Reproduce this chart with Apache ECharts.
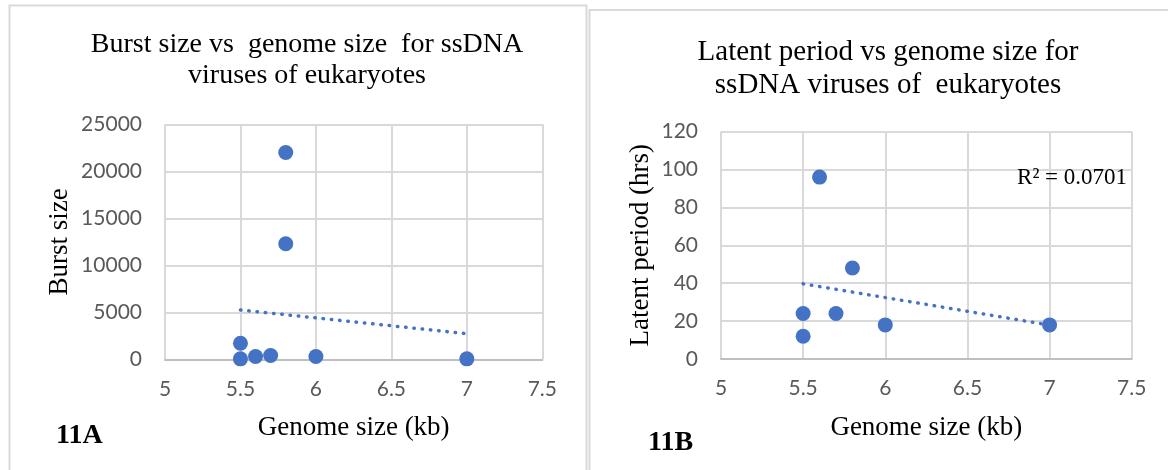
<!DOCTYPE html>
<html>
<head>
<meta charset="utf-8">
<script src="https://cdn.jsdelivr.net/npm/echarts@6/dist/echarts.min.js"></script>
<style>
  html, body { margin: 0; padding: 0; background: #ffffff; }
  #chart { width: 1168px; height: 470px; }
</style>
</head>
<body>
<div id="chart"></div>
<script>
// ---- Data ----
const burstGenome = [5.5, 5.5, 5.6, 5.7, 5.8, 5.8, 6.0, 7.0];
const burstSize   = [1700, 50, 300, 400, 22000, 12300, 300, 50];

const latentGenome = [5.6, 5.8, 5.5, 5.7, 5.5, 6.0, 7.0];
const latentPeriod = [96, 48, 24, 24, 12, 18, 18];

const xTicks = { min: 5, max: 7.5, interval: 0.5 };
const burstTicks = { min: 0, max: 25000, interval: 5000 };
const latentTicks = { min: 0, max: 120, interval: 20 };

const titleA = 'Burst size vs  genome size  for ssDNA\nviruses of eukaryotes';
const titleB = 'Latent period vs genome size for\nssDNA viruses of  eukaryotes';
const xName = 'Genome size (kb)';
const yNameA = 'Burst size';
const yNameB = 'Latent period (hrs)';
const panelA = '11A';
const panelB = '11B';
const r2Label = 'R² = 0.0701';

// ---- Linear trendline from the data ----
function trend(xs, ys) {
  const n = xs.length;
  const mx = xs.reduce((a, b) => a + b, 0) / n;
  const my = ys.reduce((a, b) => a + b, 0) / n;
  let sxy = 0, sxx = 0;
  for (let i = 0; i < n; i++) { sxy += (xs[i] - mx) * (ys[i] - my); sxx += (xs[i] - mx) ** 2; }
  const b = sxy / sxx, a = my - b * mx;
  const x0 = Math.min(...xs), x1 = Math.max(...xs);
  return [[x0, a + b * x0], [x1, a + b * x1]];
}

const BLUE = '#4472C4';
const GRID = '#d9d9d9';
const LABEL = '#595959';
const SERIF = '"Liberation Serif", "Times New Roman", serif';
const SANS = 'Lato, "Open Sans", sans-serif';

function xAxis(gridIndex) {
  return {
    type: 'value', gridIndex,
    min: xTicks.min, max: xTicks.max, interval: xTicks.interval,
    name: xName, nameLocation: 'middle', nameGap: 55,
    nameTextStyle: { fontFamily: SERIF, fontSize: 27, color: '#000' },
    axisLine: { show: true, lineStyle: { color: '#bfbfbf', width: 2 } },
    axisTick: { show: false },
    axisLabel: { color: LABEL, fontFamily: SANS, fontSize: 21, margin: 19, formatter: v => String(v) },
    splitLine: { show: true, lineStyle: { color: GRID, width: 2 } }
  };
}
function yAxis(gridIndex, ticks, name, gap) {
  return {
    type: 'value', gridIndex,
    min: ticks.min, max: ticks.max, interval: ticks.interval,
    name, nameLocation: 'middle', nameGap: gap, nameRotate: 90,
    nameTextStyle: { fontFamily: SERIF, fontSize: 27, color: '#000' },
    axisLine: { show: false },
    axisTick: { show: false },
    axisLabel: { color: LABEL, fontFamily: SANS, fontSize: 21, margin: 23, formatter: v => String(v) },
    splitLine: { show: true, lineStyle: { color: GRID, width: 2 } }
  };
}

const chart = echarts.init(document.getElementById('chart'), null, { renderer: 'canvas' });
chart.setOption({
  animation: false,
  backgroundColor: '#ffffff',
  title: [
    { text: titleA, left: 302, top: 24, textAlign: 'center',
      textStyle: { fontFamily: SERIF, fontSize: 28, fontWeight: 'normal', color: '#000', lineHeight: 31, align: 'center' } },
    { text: titleB, left: 883, top: 31, textAlign: 'center',
      textStyle: { fontFamily: SERIF, fontSize: 29, fontWeight: 'normal', color: '#000', lineHeight: 33, align: 'center' } }
  ],
  grid: [
    { left: 165, right: 1168 - 542.3, top: 124.3, bottom: 470 - 359.3 },
    { left: 721, right: 1168 - 1131.7, top: 131.6, bottom: 470 - 359 }
  ],
  xAxis: [xAxis(0), xAxis(1)],
  yAxis: [yAxis(0, burstTicks, yNameA, 92), yAxis(1, latentTicks, yNameB, 67)],
  series: [
    { type: 'line', xAxisIndex: 0, yAxisIndex: 0, data: trend(burstGenome, burstSize),
      symbol: 'none', z: 2,
      lineStyle: { color: BLUE, width: 3.5, type: [0.5, 7.8], cap: 'round' } },
    { type: 'scatter', xAxisIndex: 0, yAxisIndex: 0, symbolSize: 15, z: 3,
      itemStyle: { color: BLUE, opacity: 1 },
      data: burstGenome.map((x, i) => [x, burstSize[i]]) },
    { type: 'line', xAxisIndex: 1, yAxisIndex: 1, data: trend(latentGenome, latentPeriod),
      symbol: 'none', z: 2,
      lineStyle: { color: BLUE, width: 3.5, type: [0.5, 7.8], cap: 'round' } },
    { type: 'scatter', xAxisIndex: 1, yAxisIndex: 1, symbolSize: 15, z: 3,
      itemStyle: { color: BLUE, opacity: 1 },
      data: latentGenome.map((x, i) => [x, latentPeriod[i]]) }
  ],
  graphic: [
    { type: 'rect', z: 0, silent: true, shape: { x: 9.5, y: 5.5, width: 577, height: 480 },
      style: { fill: 'none', stroke: '#d9d9d9', lineWidth: 2 } },
    { type: 'rect', z: 0, silent: true, shape: { x: 589.5, y: 10, width: 600, height: 480 },
      style: { fill: 'none', stroke: '#d9d9d9', lineWidth: 2 } },
    { type: 'text', left: 56, top: 422, z: 10,
      style: { text: panelA, font: 'bold 28px "Liberation Serif", serif', fill: '#000' } },
    { type: 'text', left: 648, top: 429, z: 10,
      style: { text: panelB, font: 'bold 28px "Liberation Serif", serif', fill: '#000' } },
    { type: 'text', right: 1168 - 1127, top: 166, z: 10,
      style: { text: r2Label, font: '23px "Liberation Serif", serif', fill: '#000' } }
  ]
});
</script>
</body>
</html>
